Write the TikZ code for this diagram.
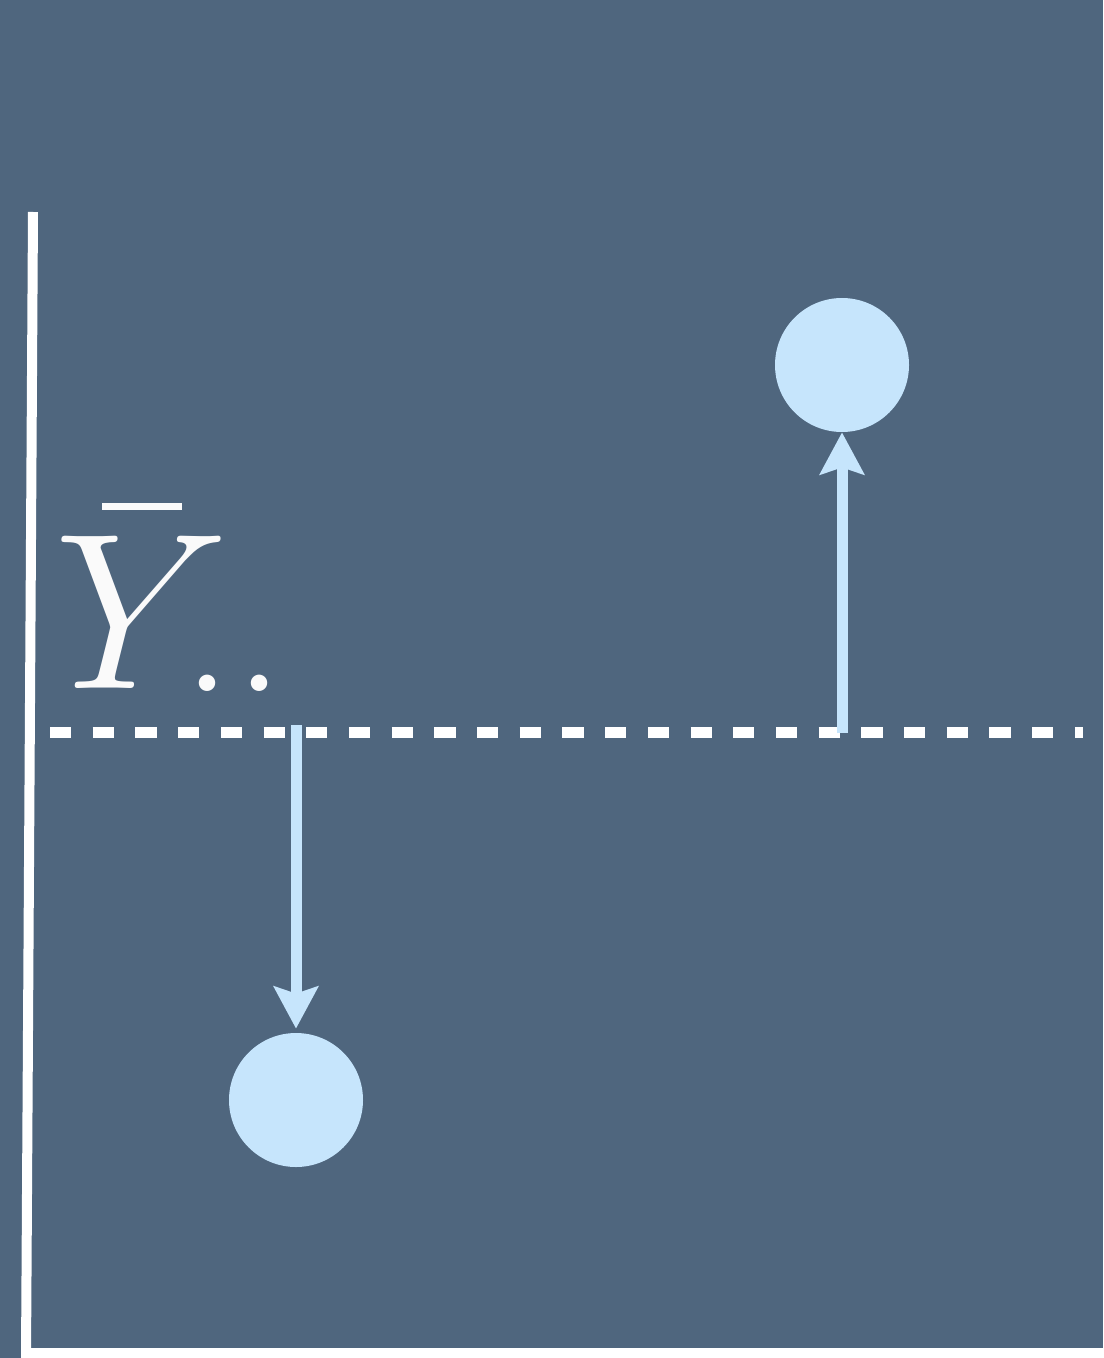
\RequirePackage{fix-cm}
\documentclass[tikz,border=0pt]{standalone}
\usetikzlibrary{arrows.meta}
\definecolor{bgslate}{HTML}{4F667E}
\definecolor{dotblue}{HTML}{C6E5FC}
\definecolor{inkwhite}{HTML}{FAFAFA}
% a large period centred on the current point, taking no width
\newcommand{\meandot}{\makebox[0pt]{\fontsize{100pt}{100pt}\selectfont.}}
\begin{document}
\begin{tikzpicture}[x=0.5pt,y=-0.5pt,
  axisline/.style={draw=white,line width=5pt},
  meanline/.style={draw=white,line width=5.5pt,dash pattern=on 10.6pt off 10.75pt},
  obs/.style={circle,fill=dotblue,minimum size=67pt,inner sep=0pt},
  resid/.style={draw=dotblue,line width=5.5pt,-{Stealth[length=21pt,width=22pt,inset=3.5pt]}}]
  % canvas
  \fill[bgslate] (0,0) rectangle (1103,1358);
  \useasboundingbox (0,0) rectangle (1103,1358);
  % axes
  \draw[axisline] (33,212) -- (26,1358);
  \draw[axisline] (21,1353) -- (1103,1353);
  % grand mean
  \draw[meanline] (50,732) -- (1083,732);
  \node[anchor=base west,inner sep=0pt,text=inkwhite,font=\fontsize{111.5pt}{120pt}\selectfont] (ybar) at (54,688)
    {\rlap{\kern24pt\rule[89pt]{40pt}{3.5pt}}%
     \rlap{\kern76.75pt\raisebox{-1.5pt}{\meandot\kern26pt\meandot}}%
     $Y$};
  % observations
  \node[obs] (up) at (842,365) {};
  \node[obs] (down) at (296,1100) {};
  \coordinate (upstart) at (842,733);
  \coordinate (downstart) at (296,725);
  \draw[resid] (upstart) -- (up);
  \draw[resid,shorten >=2pt] (downstart) -- (down);
\end{tikzpicture}
\end{document}
